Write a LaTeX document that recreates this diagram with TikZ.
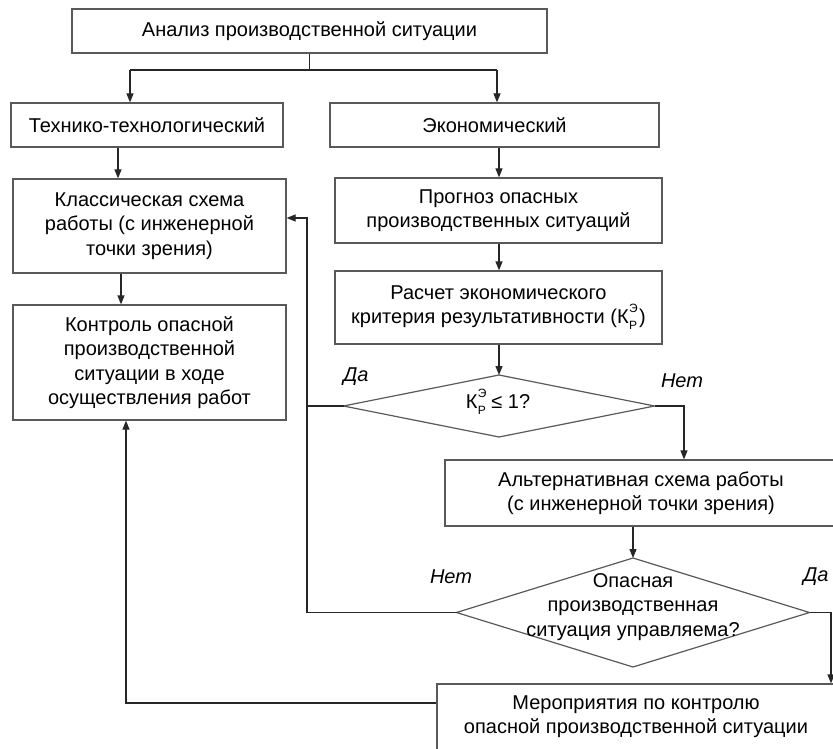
\documentclass[tikz,border=0pt]{standalone}
\usepackage{fontspec}
\setmainfont{Liberation Sans}
\usetikzlibrary{arrows.meta,shapes.geometric}
% coefficient K with stacked indices
\newcommand{\kre}{К\kern0.5pt\rlap{\raisebox{0.55em}{\fontsize{12}{12}\selectfont Э}}\raisebox{-0.3em}{\fontsize{12}{12}\selectfont Р}}
\begin{document}
\begin{tikzpicture}[x=1pt,y=-1pt,
  box/.style={draw=black!65, line width=1.2pt, fill=white, align=center,
    inner sep=2pt, font=\fontsize{20}{24.5}\selectfont},
  dec/.style={diamond, draw=black!65, line width=1.2pt, inner sep=0pt, outer sep=0pt},
  txt/.style={align=center, inner sep=0pt, font=\fontsize{20}{24.5}\selectfont},
  arr/.style={draw=black!85, line width=1.2pt, -{Triangle[length=9pt,width=7pt]}},
  ln/.style={draw=black!85, line width=1.2pt},
  lbl/.style={inner sep=0pt, font=\fontsize{20}{24}\selectfont\itshape}]
\useasboundingbox (0,0) rectangle (833,749);

% boxes
\node[box, minimum width=475pt, minimum height=44pt] (top) at (309.5,31) {Анализ производственной ситуации};
\node[box, minimum width=272pt, minimum height=44pt] (tech) at (147,125) {Технико-технологический};
\node[box, minimum width=329pt, minimum height=44pt] (econ) at (494.5,125) {Экономический};
\node[box, minimum width=273pt, minimum height=94pt] (klass) at (149.5,226) {Классическая схема\\работы (с инженерной\\точки зрения)};
\node[box, minimum width=273pt, minimum height=115pt] (kontrol) at (149.5,362.5) {Контроль опасной\\производственной\\ситуации в ходе\\осуществления работ};
\node[box, minimum width=327pt, minimum height=65pt] (progn) at (498.5,210.5) {Прогноз опасных\\производственных ситуаций};
\node[box, minimum width=327pt, minimum height=73pt] (rasch) at (498.5,307.5) {Расчет экономического\\критерия результативности (\kre\kern2pt)};
\node[box, minimum width=392pt, minimum height=66pt] (alt) at (641,493) {Альтернативная схема работы\\(с инженерной точки зрения)};
\node[box, minimum width=397pt, minimum height=70pt] (mer) at (635.5,719) {};
\node[txt] (mertext) at (636,716.5) {Мероприятия по контролю\\опасной производственной ситуации};

% decisions
\node[dec, minimum width=311pt, minimum height=62pt] (d1) at (499,406) {};
\node[txt] (d1text) at (498,402) {\kre{} ≤ 1?};
\node[dec, minimum width=353pt, minimum height=109pt] (d2) at (633,612.5) {};
\node[txt] (d2text) at (633,607) {Опасная\\производственная\\ситуация управляема?};

% branch labels
\node[lbl] (yes1) at (356,377) {Да};
\node[lbl] (no1) at (682,381) {Нет};
\node[lbl] (no2) at (451,577) {Нет};
\node[lbl] (yes2) at (816,577) {Да};

% helper points of the connectors
\coordinate (sL) at (130,70);
\coordinate (sR) at (497,70);
\coordinate (xa) at (118,0);
\coordinate (xb) at (121,0);
\coordinate (fb) at (307,218);
\coordinate (xn) at (684,0);
\coordinate (xd) at (831,0);
\coordinate (mj) at (126,703);

% connectors
\draw[ln] (top.south) -- (top.south |- sL);
\draw[ln] (sL) -- (sR);
\draw[arr] (sL) -- (sL |- tech.north);
\draw[arr] (sR) -- (sR |- econ.north);
\draw[arr] (tech.south -| xa) -- (klass.north -| xa);
\draw[arr] (klass.south -| xb) -- (kontrol.north -| xb);
\draw[arr] (econ.south -| d1.north) -- (progn.north -| d1.north);
\draw[arr] (progn.south -| d1.north) -- (rasch.north -| d1.north);
\draw[arr] (rasch.south -| d1.north) -- (d1.north);
\draw[arr] (d1.west) -- (d1.west -| fb) -- (fb) -- (fb -| klass.east);
\draw[ln] (d2.west) -- (d2.west -| fb) -- (d1.west -| fb);
\draw[arr] (d1.east) -- (d1.east -| xn) -- (alt.north -| xn);
\draw[arr] (alt.south -| d2.north) -- (d2.north);
\draw[arr] (d2.east) -- (d2.east -| xd) -- (mer.north -| xd);
\draw[arr] (mj -| mer.west) -- (mj) -- (mj |- kontrol.south);
\end{tikzpicture}
\end{document}
